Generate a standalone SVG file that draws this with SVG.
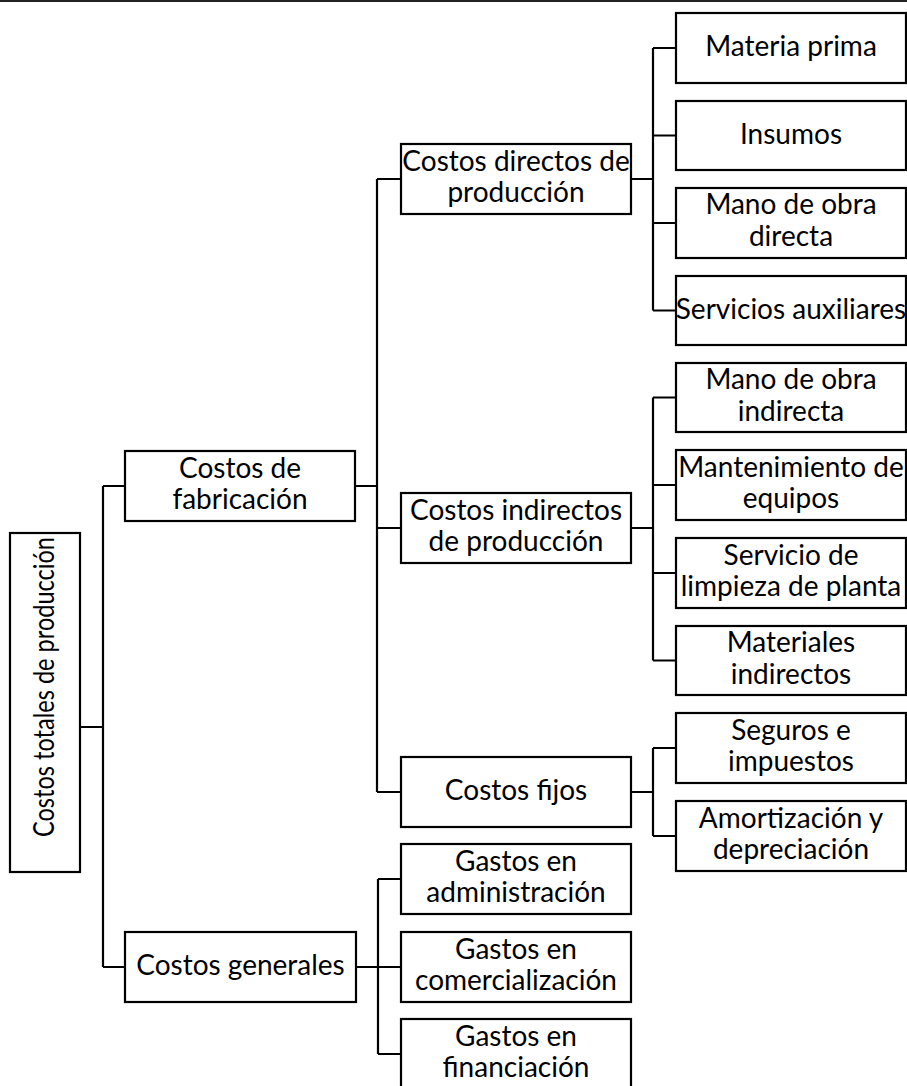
<svg xmlns="http://www.w3.org/2000/svg" width="907" height="1086" viewBox="0 0 907 1086">
<style>
rect.n{fill:#fff;stroke:#000;stroke-width:2.2}
text{font-family:Lato,"Open Sans",sans-serif;font-size:28px;fill:#000;text-anchor:middle}
#connectors path{fill:none;stroke:#000;stroke-width:2.2}
</style>
<rect width="907" height="1086" fill="#fff"/>
<line x1="0" y1="1" x2="907" y2="1" stroke="#222" stroke-width="2.2"/>
<g id="connectors">
<path d="M80 727H103M103 486V967M103 486H125M103 967H125"/>
<path d="M355 486H377M377 179V792M377 179H401M377 528H401M377 792H401"/>
<path d="M631 179H653M653 48V310.5M653 48H676M653 135.5H676M653 223H676M653 310.5H676"/>
<path d="M631 528H653M653 397.5V660.5M653 397.5H676M653 485H676M653 573H676M653 660.5H676"/>
<path d="M631 792H653M653 748V836M653 748H676M653 836H676"/>
<path d="M356 967H378M378 879V1054M378 879H401M378 967H401M378 1054H401"/>
</g>
<g id="root"><rect class="n" x="10" y="533" width="70" height="339"/><text transform="translate(54 687) rotate(-90)" textLength="300" lengthAdjust="spacingAndGlyphs">Costos totales de producción</text></g>
<g id="fabricacion"><rect class="n" x="125" y="451" width="230" height="70"/><text x="240" y="477.5">Costos de</text><text x="240" y="509">fabricación</text></g>
<g id="generales"><rect class="n" x="125" y="932" width="231" height="70"/><text x="240.5" y="975">Costos generales</text></g>
<g id="directos"><rect class="n" x="401" y="144" width="230" height="70"/><text x="516" y="170.5">Costos directos de</text><text x="516" y="202">producción</text></g>
<g id="indirectos"><rect class="n" x="401" y="493" width="230" height="70"/><text x="516" y="519.5">Costos indirectos</text><text x="516" y="551">de producción</text></g>
<g id="fijos"><rect class="n" x="401" y="757" width="230" height="70"/><text x="516" y="800">Costos fijos</text></g>
<g id="administracion"><rect class="n" x="401" y="844" width="230" height="70"/><text x="516" y="870.5">Gastos en</text><text x="516" y="902">administración</text></g>
<g id="comercializacion"><rect class="n" x="401" y="932" width="230" height="70"/><text x="516" y="958.5">Gastos en</text><text x="516" y="990">comercialización</text></g>
<g id="financiacion"><rect class="n" x="401" y="1019" width="230" height="72"/><text x="516" y="1045.5">Gastos en</text><text x="516" y="1077">financiación</text></g>
<g id="materia"><rect class="n" x="676" y="13" width="230" height="70"/><text x="791" y="56">Materia prima</text></g>
<g id="insumos"><rect class="n" x="676" y="101" width="230" height="69"/><text x="791" y="143.5">Insumos</text></g>
<g id="mod"><rect class="n" x="676" y="188" width="230" height="70"/><text x="791" y="214">Mano de obra</text><text x="791" y="246">directa</text></g>
<g id="servicios"><rect class="n" x="676" y="276" width="230" height="69"/><text x="791" y="318.5">Servicios auxiliares</text></g>
<g id="moi"><rect class="n" x="676" y="363" width="230" height="69"/><text x="791" y="389">Mano de obra</text><text x="791" y="420.5">indirecta</text></g>
<g id="mantenimiento"><rect class="n" x="676" y="450" width="230" height="70"/><text x="791" y="476.5">Mantenimiento de</text><text x="791" y="508">equipos</text></g>
<g id="limpieza"><rect class="n" x="676" y="538" width="230" height="70"/><text x="791" y="564.5">Servicio de</text><text x="791" y="596">limpieza de planta</text></g>
<g id="materiales"><rect class="n" x="676" y="626" width="230" height="69"/><text x="791" y="652">Materiales</text><text x="791" y="683.5">indirectos</text></g>
<g id="seguros"><rect class="n" x="676" y="713" width="230" height="70"/><text x="791" y="739.5">Seguros e</text><text x="791" y="771">impuestos</text></g>
<g id="amortizacion"><rect class="n" x="676" y="801" width="230" height="70"/><text x="791" y="827.5">Amortización y</text><text x="791" y="859">depreciación</text></g>
</svg>
